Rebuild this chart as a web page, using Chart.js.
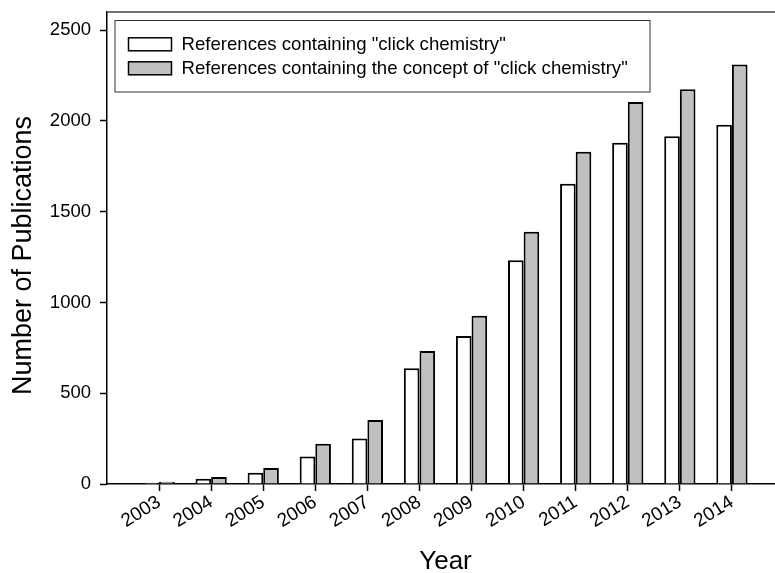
<!DOCTYPE html>
<html>
<head>
<meta charset="utf-8">
<script src="https://cdn.jsdelivr.net/npm/chart.js@4/dist/chart.umd.min.js"></script>
<style>
  html, body { margin: 0; padding: 0; background: #fff; overflow: hidden; }
  #c { display: block; }
</style>
</head>
<body>
<canvas id="c" width="784" height="573" style="width:784px;height:573px"></canvas>
<script>
// ---- data ----
const years = ['2003','2004','2005','2006','2007','2008','2009','2010','2011','2012','2013','2014'];
const clickChemistry = [7, 29, 62, 152, 250, 637, 815, 1232, 1654, 1880, 1916, 1979];
const conceptOfClickChemistry = [13, 38, 88, 222, 352, 732, 927, 1389, 1830, 2104, 2175, 2311];
const seriesNames = ['References containing "click chemistry"', 'References containing the concept of "click chemistry"'];
const yTicks = [0, 500, 1000, 1500, 2000, 2500];

// padded category axis (one empty slot at each end)
const labels = [''].concat(years, ['']);
const pad = arr => [null].concat(arr, [null]);

const FONT = '"Liberation Sans", Arial, sans-serif';

const framePlugin = {
  id: 'frame',
  afterDraw(chart) {
    const {ctx, chartArea: a} = chart;
    ctx.save();
    // top frame line
    ctx.strokeStyle = '#444';
    ctx.lineWidth = 1.5;
    ctx.beginPath();
    ctx.moveTo(a.left, a.top);
    ctx.lineTo(a.right, a.top);
    ctx.stroke();
    // legend box
    const bx = 115, by = 20.5, bw = 535, bh = 71.5;
    ctx.fillStyle = '#fff';
    ctx.fillRect(bx, by, bw, bh);
    ctx.strokeStyle = '#333';
    ctx.lineWidth = 1;
    ctx.strokeRect(bx, by, bw, bh);
    const rows = [44.3, 68.3];
    chart.data.datasets.forEach((ds, i) => {
      const cy = rows[i];
      ctx.fillStyle = ds.backgroundColor;
      ctx.fillRect(128.5, cy - 6.5, 43, 13);
      ctx.strokeStyle = '#000';
      ctx.lineWidth = 1.5;
      ctx.strokeRect(128.5, cy - 6.5, 43, 13);
      ctx.fillStyle = '#000';
      ctx.font = '18.6px ' + FONT;
      ctx.textBaseline = 'middle';
      ctx.textAlign = 'left';
      ctx.fillText(ds.label, 181.5, cy + 1);
    });
    ctx.restore();
  }
};

new Chart(document.getElementById('c'), {
  type: 'bar',
  data: {
    labels: labels,
    datasets: [
      { label: seriesNames[0], data: pad(clickChemistry), backgroundColor: '#ffffff', borderColor: '#000', borderWidth: 2 },
      { label: seriesNames[1], data: pad(conceptOfClickChemistry), backgroundColor: '#c0c0c0', borderColor: '#000', borderWidth: 2 }
    ]
  },
  options: {
    responsive: false,
    animation: false,
    devicePixelRatio: 1,
    layout: { padding: { top: 12, right: 0, left: 0, bottom: 0 } },
    datasets: { bar: { barPercentage: 1.0, categoryPercentage: 0.6 } },
    plugins: { legend: { display: false }, tooltip: { enabled: false } },
    scales: {
      x: {
        offset: false,
        grid: {
          offset: false,
          drawOnChartArea: false,
          drawTicks: true,
          tickLength: 7,
          tickWidth: 1.5,
          tickColor: ctx => (ctx.tick && ctx.tick.label === '') ? 'rgba(0,0,0,0)' : '#000'
        },
        border: { display: true, color: '#000', width: 1.5 },
        ticks: {
          autoSkip: false,
          minRotation: 32,
          maxRotation: 32,
          padding: 0,
          color: '#000',
          font: { family: FONT, size: 19 }
        },
        title: {
          display: true,
          text: 'Year',
          color: '#000',
          font: { family: FONT, size: 26, lineHeight: 0.85 },
          padding: 0
        },
        afterFit: s => { s.height = 89; s.paddingLeft = 0; s.paddingRight = 0; }
      },
      y: {
        min: 0,
        max: 2600,
        grid: {
          drawOnChartArea: false,
          drawTicks: true,
          tickLength: 7,
          tickWidth: 1.5,
          tickColor: '#000'
        },
        border: { display: true, color: '#000', width: 1.5 },
        ticks: {
          stepSize: 500,
          padding: 9,
          color: '#000',
          font: { family: FONT, size: 18.5 },
          callback: v => String(v)
        },
        afterBuildTicks: s => { s.ticks = yTicks.map(v => ({ value: v })); },
        title: {
          display: true,
          text: 'Number of Publications  ',
          color: '#000',
          font: { family: FONT, size: 27 },
          padding: { top: 7, bottom: 0 }
        },
        afterFit: s => { s.width = 107; s.paddingTop = 0; s.paddingBottom = 0; }
      }
    }
  },
  plugins: [framePlugin]
});
</script>
</body>
</html>
